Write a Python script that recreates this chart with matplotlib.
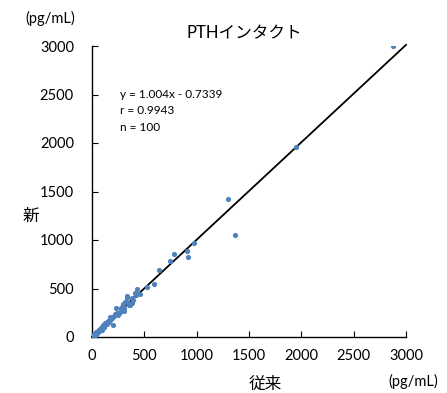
import matplotlib
matplotlib.use("Agg")
import matplotlib.pyplot as plt
import numpy as np

plt.rcParams['font.family'] = ['Lato', 'Noto Sans CJK JP', 'DejaVu Sans']

# Data: conventional (x) vs new (y), pg/mL
old_vals = [2875, 1950, 1300, 1365, 974, 920, 904, 783, 741, 640,
            595, 522, 432, 407, 337, 395, 378, 302, 232, 200,
            172, 99, 330, 350, 300, 320, 280, 260, 250, 220,
            190, 170, 150, 140, 125, 115, 105, 95, 88, 80,
            75, 70, 65, 60, 55, 52, 48, 45, 42, 40,
            38, 35, 33, 30, 28, 26, 24, 22, 20, 18,
            17, 16, 15, 14, 13, 12, 11, 10, 9, 8,
            7, 6, 5, 45, 60, 85, 110, 130, 160, 180,
            210, 240, 270, 290, 310, 340, 360, 385, 420, 460,
            35, 28, 22, 18, 50, 65, 75, 95, 120, 145]
new_vals = [3000, 1955, 1420, 1050, 966, 828, 890, 859, 780, 688,
            546, 512, 495, 450, 423, 381, 354, 268, 296, 120,
            209, 72, 400, 330, 340, 360, 300, 250, 230, 240,
            200, 180, 160, 130, 140, 100, 120, 85, 95, 75,
            80, 60, 70, 55, 60, 45, 50, 40, 48, 35,
            42, 30, 36, 32, 25, 29, 22, 24, 18, 20,
            15, 18, 13, 16, 11, 14, 9, 12, 8, 10,
            6, 7, 4, 52, 55, 90, 105, 140, 150, 190,
            220, 250, 260, 310, 300, 350, 330, 400, 430, 440,
            40, 25, 26, 15, 55, 70, 68, 100, 130, 155]
slope = 1.004
intercept = -0.7339
x_ticks = [0, 500, 1000, 1500, 2000, 2500, 3000]
y_ticks = [0, 500, 1000, 1500, 2000, 2500, 3000]

fig = plt.figure(figsize=(4.47, 3.93), dpi=100)
ax = fig.add_axes([92/447, 1-337/393, (406-92)/447, (337-46)/393])

ax.scatter(old_vals, new_vals, s=14, color='#4F81BD', zorder=3, linewidths=0)
xl = np.array([0, 3000])
ax.plot(xl, slope*xl + intercept, color='black', lw=1.3, zorder=2, clip_on=False)

ax.set_xlim(0, 3000)
ax.set_ylim(0, 3000)
ax.set_xticks(x_ticks)
ax.set_yticks(y_ticks)
ax.tick_params(direction='in', length=4, width=0.8, labelsize=10.5)
ax.tick_params(axis='x', pad=9)
ax.tick_params(axis='y', pad=13)
ax.spines['top'].set_visible(False)
ax.spines['right'].set_visible(False)
for s in ['left', 'bottom']:
    ax.spines[s].set_linewidth(1.0)

fig.text(244/447, 1-33/393, 'PTHインタクト', ha='center', va='center', fontsize=12)
fig.text(50/447, 1-18/393, '(pg/mL)', ha='center', va='center', fontsize=10.5)
fig.text(413/447, 1-381/393, '(pg/mL)', ha='center', va='center', fontsize=10.5)
fig.text(31/447, 1-216/393, '新', ha='center', va='center', fontsize=12)
fig.text(265/447, 1-384/393, '従来', ha='center', va='center', fontsize=12)
fig.text(120/447, 1-89/393, 'y = 1.004x - 0.7339\nr = 0.9943\nn = 100',
         ha='left', va='top', fontsize=8.5, linespacing=1.6)

fig.savefig('out.png', dpi=100)
